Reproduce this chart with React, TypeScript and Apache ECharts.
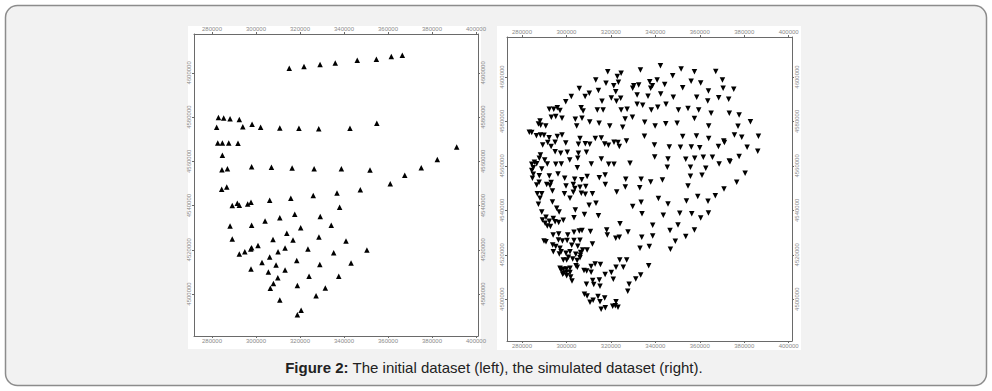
import React, { useEffect, useRef } from "react";
import * as echarts from "echarts";

// Initial dataset (left panel): [easting, northing]
const initialPoints: [number, number][] = [
  [315100, 4602100], [321800, 4602900], [329100, 4603800], [336000, 4604500], [346000, 4605700], [354700, 4606200], [361500, 4607400], [366500, 4608000],
  [282900, 4579800], [285300, 4579600], [288200, 4579300], [292400, 4578900], [282100, 4575400], [294000, 4575700], [298200, 4576800], [302100, 4575400], [310800, 4575100], [319500, 4575000], [328500, 4574700], [342700, 4575000], [354900, 4577200],
  [282600, 4568300], [284700, 4568300], [287600, 4568300], [291800, 4568200], [284700, 4562800],
  [284500, 4556200], [287000, 4556600], [298000, 4557600], [307000, 4557300], [316400, 4557000], [326400, 4556700], [338800, 4556600], [351800, 4556100], [361000, 4549900], [367600, 4553700], [375100, 4557100], [382400, 4560800], [391200, 4566500], [284400, 4547400], [286700, 4548400], [347400, 4547200],
  [326000, 4544500], [336800, 4545700], [315800, 4543300], [306200, 4542400], [297700, 4541500], [296200, 4540700], [291500, 4541000], [292400, 4540100], [289200, 4540000], [338000, 4539200], [317600, 4536100], [310800, 4534500], [329200, 4535000], [304100, 4533000], [288200, 4530800], [298000, 4531100], [320300, 4530000], [334200, 4531100], [314000, 4527500], [328600, 4525800], [340900, 4524000], [289200, 4524900], [307700, 4524700], [316800, 4524400], [300900, 4521900], [297600, 4520400], [298000, 4520900], [294900, 4519100], [292400, 4518100], [310000, 4519100], [313200, 4520800], [323600, 4520400], [335300, 4518700], [350400, 4519900], [306200, 4516700], [302700, 4514300], [318500, 4515200], [309100, 4513100], [329000, 4513300], [343200, 4514000], [297700, 4511300], [313200, 4510900], [305600, 4510000], [309900, 4507400], [324100, 4508000], [337600, 4508000], [307900, 4504800], [306500, 4502600], [318800, 4503800], [331500, 4502700], [327300, 4499200], [310800, 4497300], [320500, 4492600], [318800, 4490600],
];

// Simulated dataset (right panel): [easting, northing]
const simulatedPoints: [number, number][] = [
  [342300, 4605100], [333300, 4603200], [351600, 4603600], [318600, 4602400], [324600, 4601700], [357600, 4602400], [367200, 4602500], [347800, 4600600], [322900, 4600200],
  [313200, 4598700], [317800, 4597200], [323400, 4597600], [321300, 4596100], [337500, 4597900], [340800, 4598700], [344200, 4596600], [356100, 4598100], [360400, 4597300], [370200, 4598700], [338700, 4596100], [330300, 4596100], [332500, 4596400],
  [305800, 4594800], [314400, 4593900], [310300, 4592700], [308400, 4591200], [322200, 4593400], [329800, 4594900], [337900, 4594900], [352300, 4595200], [363900, 4593700], [370500, 4594900], [375300, 4594500], [342400, 4592400], [331800, 4591900],
  [302200, 4591200], [299700, 4588900], [320200, 4590600], [316000, 4589100], [324400, 4590400], [322500, 4589100], [336700, 4591300], [348100, 4590900], [358600, 4590900], [368500, 4590700], [373000, 4590000], [363600, 4589200],
  [292300, 4585500], [294300, 4585500], [297100, 4584900], [295900, 4586200], [306600, 4586200], [331800, 4587700], [334300, 4587300], [327300, 4585500], [324600, 4585200], [307500, 4584700], [313900, 4585200], [316500, 4585200], [338200, 4585200], [341100, 4586400], [344800, 4587700], [350400, 4585200], [354700, 4585800], [359500, 4585200], [365100, 4583700], [373300, 4583700], [377700, 4582900],
  [293200, 4581900], [295200, 4582200], [298000, 4581400], [304000, 4581000], [307000, 4581400], [310500, 4579800], [326400, 4581100], [329700, 4581900], [357600, 4581300], [382800, 4579900],
  [288100, 4580200], [287400, 4578900], [288400, 4578300], [290700, 4578000], [304600, 4578000], [314700, 4579200], [319500, 4578000], [325300, 4577400], [335200, 4579600], [339900, 4578000], [344700, 4579000], [349800, 4579200], [364000, 4578000], [377200, 4577800],
  [283300, 4575100], [284400, 4575000], [286500, 4573600], [288300, 4573900], [289900, 4573800], [292200, 4572700], [295900, 4573200], [298000, 4573900], [306100, 4572300], [313000, 4572300], [315700, 4572600], [321400, 4570600], [327000, 4571200], [335100, 4573300], [352300, 4573200], [358500, 4573500], [364000, 4572300], [370800, 4571200], [375600, 4573900], [378900, 4572900], [386400, 4573300],
  [289300, 4569400], [293100, 4568700], [291600, 4570500], [294900, 4570600], [299700, 4570300], [305400, 4569700], [308500, 4570000], [310500, 4569700], [317200, 4569900], [318900, 4569300], [323200, 4570500], [323800, 4568700], [339600, 4569400], [346300, 4568500], [351300, 4568400], [356200, 4568500], [360000, 4568200], [368400, 4568700], [371100, 4570500], [381300, 4568400], [386100, 4566600],
  [288300, 4564900], [287800, 4563400], [285600, 4561600], [290200, 4562700], [294900, 4566400], [297400, 4565700], [300400, 4566100], [305400, 4565700], [309000, 4566100], [315700, 4563100], [321400, 4560700], [328600, 4561200], [339700, 4564000], [345700, 4563100], [353700, 4563000], [357700, 4563400], [361600, 4563900], [365700, 4563900], [373300, 4562200], [377700, 4564200],
  [284400, 4560700], [286600, 4561000], [285100, 4559200], [288900, 4558600], [291400, 4560900], [295200, 4560700], [297700, 4560900], [301500, 4562700], [305100, 4563400], [304900, 4559200], [311200, 4560900], [319000, 4560700], [345400, 4559400], [355800, 4559400], [362700, 4558900], [368700, 4560900], [373600, 4561900], [380400, 4556700],
  [284400, 4557900], [285100, 4556200], [284700, 4554400], [287800, 4555600], [287700, 4552600], [292300, 4555500], [296200, 4556400], [299200, 4554400], [303700, 4554000], [306900, 4553800], [309300, 4555200], [314800, 4554700], [317400, 4555900], [326700, 4554000], [333600, 4554000], [337900, 4552800], [343200, 4553700], [355800, 4555300], [361000, 4555800], [376600, 4552600],
  [286600, 4551400], [291100, 4551600], [292600, 4551200], [293100, 4552500], [299800, 4551000], [303100, 4551600], [306100, 4550400], [308700, 4550700], [317500, 4551600], [326500, 4550500], [333000, 4550200], [354700, 4551000], [303800, 4549800],
  [286900, 4547500], [288900, 4547500], [288100, 4545400], [293700, 4548700], [299100, 4547500], [303100, 4548100], [306700, 4547700], [308500, 4547200], [311700, 4547500], [301600, 4545400], [322600, 4548300], [341400, 4545300], [345700, 4542900], [354000, 4544200], [359100, 4546200], [363700, 4544100], [367000, 4546600], [370900, 4549600],
  [287400, 4542700], [293700, 4543800], [295600, 4540900], [310200, 4542300], [313300, 4543200], [329800, 4541700], [333600, 4543600],
  [288900, 4539300], [296700, 4539300], [304000, 4540200], [308100, 4538100], [314400, 4537600], [334000, 4538500], [343600, 4537800], [351000, 4538700], [356400, 4538500], [363900, 4538800], [360400, 4536600], [290800, 4536900],
  [289200, 4535700], [290400, 4534200], [292300, 4535100], [294100, 4536300], [294900, 4534900], [296500, 4534500], [298600, 4535500], [303400, 4536700], [291400, 4533000], [292800, 4532700], [338800, 4533300], [350200, 4533400], [324100, 4534000],
  [307000, 4530900], [310800, 4530500], [318100, 4531200], [318400, 4528900], [323800, 4527900], [322200, 4527400], [327700, 4530300], [333900, 4527900], [338800, 4528500], [346600, 4530900], [353700, 4528200], [357600, 4531200], [296500, 4529400], [294000, 4528900], [300600, 4528900], [303400, 4530100], [305800, 4530700],
  [289900, 4526200], [290800, 4525900], [293800, 4524400], [295200, 4523700], [297100, 4522900], [296400, 4526700], [298200, 4526200], [300300, 4526400], [303400, 4526400], [306100, 4526500], [302400, 4524300], [305100, 4523800], [311700, 4524900], [307300, 4522200], [309300, 4522200], [333100, 4522900], [337300, 4523700], [346800, 4522500], [349000, 4526100],
  [294100, 4521400], [297600, 4521400], [296800, 4520400], [299800, 4520700], [300900, 4518900], [301600, 4521400], [304200, 4520200], [306400, 4521000], [306300, 4519800], [306100, 4518700], [298600, 4517700], [300100, 4517700], [302800, 4518100], [304800, 4517400], [324000, 4517700], [327100, 4517700],
  [297100, 4513900], [297600, 4513200], [298600, 4513500], [300000, 4513600], [301600, 4513900], [298800, 4511700], [300000, 4512100], [301600, 4512000], [304300, 4515100], [304900, 4514400], [307900, 4512900], [309100, 4512700], [311100, 4514700], [311100, 4512100], [312900, 4515900], [315300, 4515600], [322300, 4514400], [325600, 4514400], [337000, 4515100], [320200, 4512000], [317400, 4511100],
  [298300, 4511200], [300100, 4510600], [301900, 4510000], [302500, 4508200], [311800, 4508400], [314800, 4508700], [312300, 4506600], [309000, 4506700], [321100, 4509000], [331200, 4509100], [333400, 4510900], [328200, 4506700],
  [315100, 4505800], [327600, 4503600],
  [308100, 4502200], [309300, 4501500], [310600, 4498600], [312000, 4499500], [314200, 4501200], [317200, 4500600], [315100, 4498900], [322300, 4498900], [322000, 4497100], [320800, 4496800], [323200, 4496400], [315600, 4495500], [317500, 4496200],
];

const xTicks = [280000, 300000, 320000, 340000, 360000, 380000, 400000];
const yTicks = [4500000, 4520000, 4540000, 4560000, 4580000, 4600000];

const captionBold = "Figure 2:";
const captionText = " The initial dataset (left), the simulated dataset (right).";

const AXIS_COLOR = "#6a6a6a";
const LABEL_COLOR = "#8a8a8a";

function xAxisDef(gridIndex: number, position: "bottom" | "top", min: number, max: number) {
  return {
    type: "value",
    gridIndex,
    position,
    min,
    max,
    axisLine: { show: true, onZero: false, lineStyle: { color: AXIS_COLOR, width: 1 } },
    axisTick: { show: true, length: 2, customValues: xTicks, lineStyle: { color: AXIS_COLOR } },
    axisLabel: {
      customValues: xTicks,
      formatter: (v: number) => String(v),
      fontSize: 6,
      color: LABEL_COLOR,
      margin: 2,
      fontFamily: "Liberation Sans, Arial, sans-serif",
    },
    splitLine: { show: false },
  };
}

function yAxisDef(gridIndex: number, position: "left" | "right", min: number, max: number) {
  return {
    type: "value",
    gridIndex,
    position,
    min,
    max,
    axisLine: { show: true, onZero: false, lineStyle: { color: AXIS_COLOR, width: 1 } },
    axisTick: { show: true, length: 2, customValues: yTicks, lineStyle: { color: AXIS_COLOR } },
    axisLabel: {
      customValues: yTicks,
      formatter: (v: number) => String(v),
      fontSize: 6,
      color: LABEL_COLOR,
      margin: 2,
      rotate: 90,
      fontFamily: "Liberation Sans, Arial, sans-serif",
    },
    splitLine: { show: false },
  };
}

export default function App() {
  const ref = useRef<HTMLDivElement>(null);

  useEffect(() => {
    if (!ref.current) return;
    const chart = echarts.init(ref.current, undefined, { renderer: "svg" });
    const option: any = {
      animation: false,
      backgroundColor: "#ffffff",
      grid: [
        { left: 194, top: 34, width: 284, height: 302, show: false },
        { left: 507, top: 37, width: 285, height: 304, show: false },
      ],
      xAxis: [
        xAxisDef(0, "bottom", 271800, 400900),
        xAxisDef(0, "top", 271800, 400900),
        xAxisDef(1, "bottom", 273250, 401500),
        xAxisDef(1, "top", 273250, 401500),
      ],
      yAxis: [
        yAxisDef(0, "left", 4481000, 4617600),
        yAxisDef(0, "right", 4481000, 4617600),
        yAxisDef(1, "left", 4481200, 4618000),
        yAxisDef(1, "right", 4481200, 4618000),
      ],
      series: [
        {
          type: "scatter",
          xAxisIndex: 0,
          yAxisIndex: 0,
          data: initialPoints,
          symbol: "triangle",
          symbolSize: 5.5,
          itemStyle: { color: "#000000", opacity: 1 },
          silent: true,
        },
        {
          type: "scatter",
          xAxisIndex: 2,
          yAxisIndex: 2,
          data: simulatedPoints,
          symbol: "triangle",
          symbolRotate: 180,
          symbolSize: 5.5,
          itemStyle: { color: "#000000", opacity: 1 },
          silent: true,
        },
      ],
      graphic: [
        {
          type: "rect",
          z: -10,
          shape: { x: 5.5, y: 5.5, width: 981, height: 380, r: 12 },
          style: { fill: "#f2f2f2", stroke: "#8c8c8c", lineWidth: 1.5 },
        },
        {
          type: "rect",
          z: -9,
          shape: { x: 188, y: 26, width: 293, height: 323 },
          style: { fill: "#ffffff" },
        },
        {
          type: "rect",
          z: -9,
          shape: { x: 497, y: 26, width: 304, height: 324 },
          style: { fill: "#ffffff" },
        },
        {
          type: "text",
          x: 494,
          y: 367,
          style: {
            text: "{b|" + captionBold + "}" + captionText,
            align: "center",
            verticalAlign: "middle",
            fontSize: 15,
            fontFamily: "Liberation Sans, Arial, sans-serif",
            fill: "#222222",
            rich: {
              b: { fontWeight: "bold", fontSize: 15, fontFamily: "Liberation Sans, Arial, sans-serif", fill: "#222222" },
            },
          },
        },
      ],
    };
    chart.setOption(option);
    return () => chart.dispose();
  }, []);

  return (
    <div
      ref={ref}
      style={{ position: "absolute", left: 0, top: 0, width: 992, height: 391 }}
    />
  );
}
